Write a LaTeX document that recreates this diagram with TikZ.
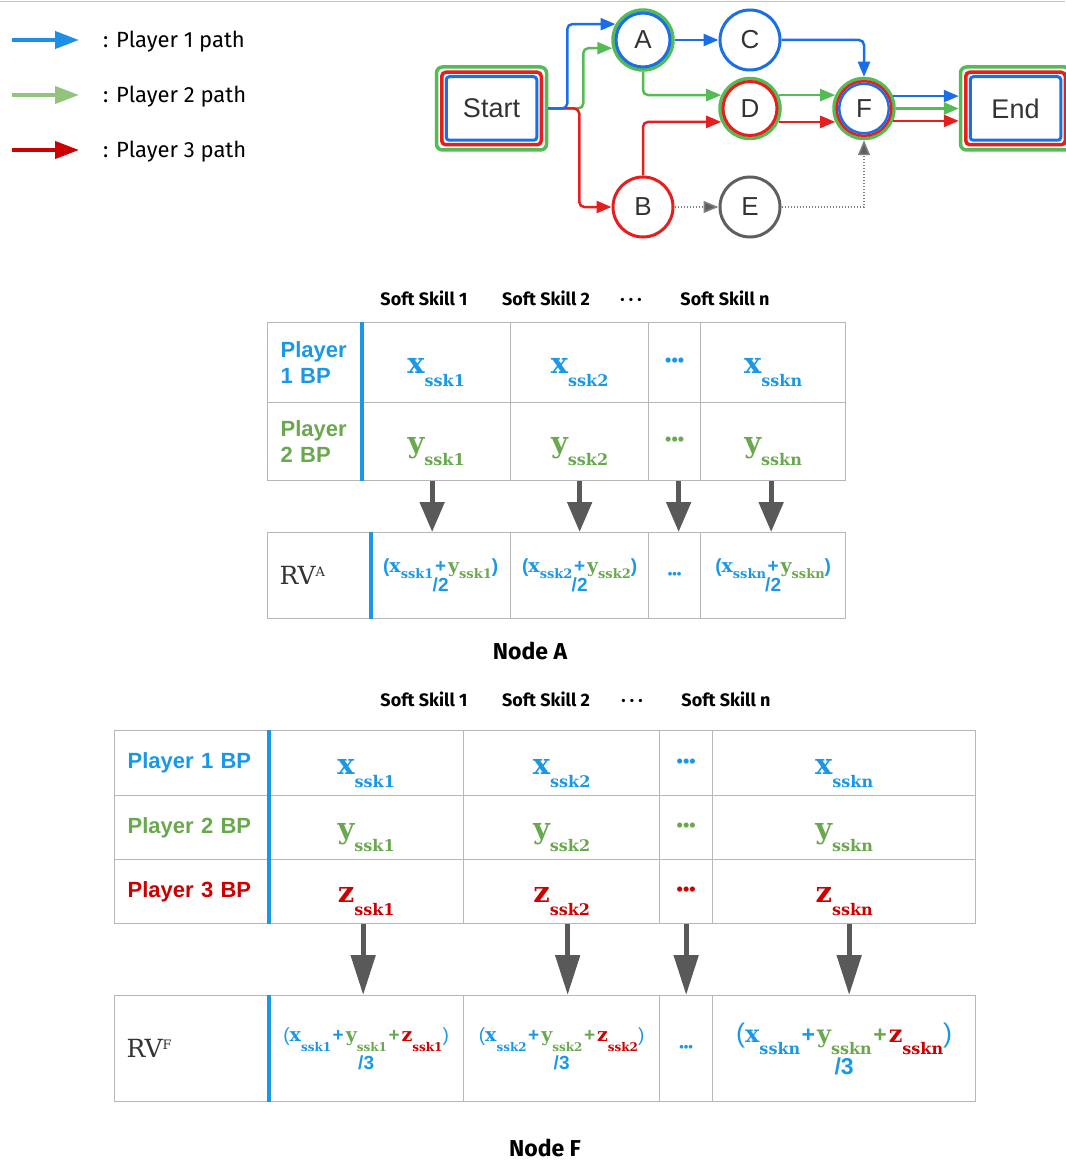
\documentclass[tikz,border=0pt]{standalone}
\usepackage{fontspec}
\setmainfont{Liberation Sans}
\newfontfamily\legfont{Fira Sans}
\newfontfamily\slabfont{DejaVu Serif}
\usepackage{xcolor}
\usepackage{tikz}
\usetikzlibrary{arrows.meta,calc,positioning}

\definecolor{lblue}{HTML}{1E8FE6}
\definecolor{lgreen}{HTML}{93C47D}
\definecolor{lred}{HTML}{CC0000}
\definecolor{gblue}{HTML}{1A6FE8}
\definecolor{ggreen}{HTML}{55BB55}
\definecolor{gred}{HTML}{E61E1E}
\definecolor{ggray}{HTML}{5F5F5F}
\definecolor{inkgray}{HTML}{333333}
\definecolor{tblue}{HTML}{1A98E6}
\definecolor{tgreen}{HTML}{6AA84F}
\definecolor{tred}{HTML}{CC0000}
\definecolor{gridgray}{HTML}{B7B7B7}
\definecolor{arrgray}{HTML}{595959}
\definecolor{rulecol}{HTML}{D8BFB0}

% variable with subscript, sizes come from \lsz, \ssz, \drop
\newcommand{\vterm}[3]{{\color{#1}\slabfont\bfseries\fontsize{\lsz}{\lsz}\selectfont #2\raisebox{-\drop}{\fontsize{\ssz}{\ssz}\selectfont #3}}}
\newcommand{\plus}[1]{\hspace{1.5pt}{\color{#1}+}\hspace{2pt}}

\tikzset{
  gnode/.style={circle, minimum size=60pt, inner sep=0pt, line width=3.5pt, text=inkgray, font=\fontsize{26}{26}\selectfont},
  gbox/.style={rectangle, rounded corners=6pt, draw=ggreen, line width=3.5pt, minimum width=110pt, minimum height=83pt, text=inkgray, font=\fontsize{27}{27}\selectfont},
  p1path/.style={draw=gblue, line width=2.5pt, rounded corners=5pt, -{Triangle[length=15pt,width=12pt]}},
  p2path/.style={draw=ggreen, line width=2.5pt, rounded corners=5pt, -{Triangle[length=15pt,width=12pt]}},
  p3path/.style={draw=gred, line width=2.5pt, rounded corners=5pt, -{Triangle[length=15pt,width=12pt]}},
  dotpath/.style={draw=gray, line width=1.5pt, dash pattern=on 1.5pt off 1.5pt, -{Triangle[length=15pt,width=12pt,fill=ggray]}},
  legarrow/.style={line width=4pt, -{Triangle[length=24pt,width=17pt]}},
  legtext/.style={anchor=base west, inner sep=0pt, text=black, font=\legfont\fontsize{22}{22}\selectfont},
  tcell/.style 2 args={draw=gridgray, line width=1.3pt, minimum width=#1, minimum height=#2, inner sep=0pt, anchor=north west},
  plab/.style={text width=#1, inner xsep=13pt, align=left, font=\bfseries\fontsize{22}{26}\selectfont},
  bpv/.style={text height=35pt, text depth=13pt, font=\def\lsz{29pt}\def\ssz{16pt}\def\drop{13pt}},
  dotcell/.style={font=\bfseries\fontsize{18}{18}\selectfont},
  rvdots/.style={text=tblue, font=\bfseries\fontsize{13}{13}\selectfont},
  rvlab/.style={text width=#1, inner xsep=12pt, align=left, text=inkgray, font=\slabfont\fontsize{25}{25}\selectfont},
  rvs/.style={align=center, text=tblue, font=\bfseries\fontsize{19}{21}\selectfont\def\lsz{19pt}\def\ssz{13pt}\def\drop{6pt}},
  rvf/.style={align=center, text=tblue, font=\bfseries\fontsize{19}{21}\selectfont\def\lsz{19pt}\def\ssz{12pt}\def\drop{10pt}},
  rvfl/.style={align=center, text=tblue, font=\bfseries\fontsize{23}{25}\selectfont\def\lsz{24pt}\def\ssz{16pt}\def\drop{12pt}},
  bpsep/.style={draw=tblue, line width=4pt},
  sumarrow/.style={draw=arrgray, line width=5pt, -{Triangle[length=30pt,width=24pt]}},
  sumarrowf/.style={draw=arrgray, line width=5pt, -{Triangle[length=40pt,width=24pt]}},
  skillhead/.style={anchor=base, inner sep=0pt, font=\legfont\bfseries\fontsize{18}{18}\selectfont},
  caption/.style={anchor=base, inner sep=0pt, font=\legfont\bfseries\fontsize{23}{23}\selectfont}
}

\begin{document}
\begin{tikzpicture}[x=1pt,y=-1pt]
  \useasboundingbox (0,0) rectangle (1065,1161);
  \coordinate (rulea) at (0,1.5);
  \coordinate (ruleb) at (1065,1.5);
  \draw[rulecol, line width=1pt] (rulea) -- (ruleb);

  % legend
  \coordinate (lg1a) at (12,40);
  \coordinate (lg1b) at (79,40);
  \coordinate (lg2a) at (12,95);
  \coordinate (lg2b) at (79,95);
  \coordinate (lg3a) at (12,150);
  \coordinate (lg3b) at (79,150);
  \draw[legarrow, lblue] (lg1a) -- (lg1b);
  \draw[legarrow, lgreen] (lg2a) -- (lg2b);
  \draw[legarrow, lred] (lg3a) -- (lg3b);
  \node[legtext] (lg1) at (103,48) {: Player 1 path};
  \node[legtext] (lg2) at (103,103) {: Player 2 path};
  \node[legtext] (lg3) at (103,158) {: Player 3 path};

  % graph
  \node[gbox] (start) at (491.5,108.5) {Start};
  \draw[gred, line width=3.5pt, rounded corners=4pt] ([shift={(7pt,-7pt)}]start.north west) rectangle ([shift={(-7pt,7pt)}]start.south east);
  \draw[gblue, line width=3pt, rounded corners=3pt] ([shift={(11.5pt,-11.5pt)}]start.north west) rectangle ([shift={(-11.5pt,11.5pt)}]start.south east);
  \node[gbox] (end) at (1015.5,108.5) {End};
  \draw[gred, line width=3.5pt, rounded corners=4pt] ([shift={(7pt,-7pt)}]end.north west) rectangle ([shift={(-7pt,7pt)}]end.south east);
  \draw[gblue, line width=3pt, rounded corners=3pt] ([shift={(11.5pt,-11.5pt)}]end.north west) rectangle ([shift={(-11.5pt,11.5pt)}]end.south east);

  \node[gnode, draw=ggreen] (A) at (643,40) {A};
  \draw[gblue, line width=3pt] (A.center) circle (27pt);
  \node[gnode, draw=gblue, line width=3pt] (C) at (750,40) {C};
  \node[gnode, draw=ggreen] (D) at (750,108.5) {D};
  \draw[gred, line width=3pt] (D.center) circle (27pt);
  \node[gnode, draw=ggreen] (F) at (864,108.5) {F};
  \draw[gred, line width=2.5pt] (F.center) circle (27.3pt);
  \draw[gblue, line width=2.5pt] (F.center) circle (24.8pt);
  \node[gnode, draw=gred, line width=3pt] (B) at (643,207) {B};
  \node[gnode, draw=ggray, line width=3pt] (E) at (750,207) {E};

  \draw[p2path] (start.east) -- ++(35,0) |- (A.195);
  \draw[p3path] (start.east) -- ++(31,0) |- (B);
  \draw[p1path] (start.east) -- ++(19,0) |- (A.150);
  \draw[p1path] (A) -- (C);
  \draw[p1path] (C) -| (F);
  \draw[p2path] (A) |- (D.155);
  \draw[p3path] (B) |- (D.205);
  \draw[p2path] (D.25) -- (F.155);
  \draw[p3path] (D.-25) -- (F.205);
  \draw[p1path] (F.23) -- (F.23 -| end.west);
  \draw[p2path] (F) -- (end);
  \draw[p3path] (F.-23) -- (F.-23 -| end.west);
  \draw[dotpath] (B) -- (E);
  \draw[dotpath] (E) -| (F);

  % node A table
  \node[skillhead] (ha1) at (424,305) {Soft Skill 1};
  \node[skillhead] (ha2) at (546,305) {Soft Skill 2};
  \node[skillhead] (ha3) at (631,305) {· · ·};
  \node[skillhead] (ha4) at (725,305) {Soft Skill n};

  \node[tcell={94pt}{80pt}, plab=68pt, text=tblue] (pa1) at (267,322) {Player\\1 BP};
  \node[tcell={149pt}{80pt}, bpv] (xa1) at (361,322) {\vterm{tblue}{x}{ssk1}};
  \node[tcell={138pt}{80pt}, bpv] (xa2) at (510,322) {\vterm{tblue}{x}{ssk2}};
  \node[tcell={52pt}{80pt}, dotcell, text=tblue] (xa3) at (648,322) {•••};
  \node[tcell={145pt}{80pt}, bpv] (xa4) at (700,322) {\vterm{tblue}{x}{sskn}};
  \node[tcell={94pt}{78pt}, plab=68pt, text=tgreen] (pa2) at (267,402) {Player\\2 BP};
  \node[tcell={149pt}{78pt}, bpv] (ya1) at (361,402) {\vterm{tgreen}{y}{ssk1}};
  \node[tcell={138pt}{78pt}, bpv] (ya2) at (510,402) {\vterm{tgreen}{y}{ssk2}};
  \node[tcell={52pt}{78pt}, dotcell, text=tgreen] (ya3) at (648,402) {•••};
  \node[tcell={145pt}{78pt}, bpv] (ya4) at (700,402) {\vterm{tgreen}{y}{sskn}};
  \draw[bpsep] (pa1.north east) -- (pa2.south east);

  \node[tcell={103pt}{86pt}, rvlab=79pt] (ra0) at (267,532) {RV\raisebox{8pt}{\fontsize{13}{13}\selectfont A}};
  \node[tcell={140pt}{86pt}, rvs] (ra1) at (370,532) {(\vterm{tblue}{x}{ssk1}\plus{tblue}\vterm{tgreen}{y}{ssk1})\\[-2pt]/2};
  \node[tcell={138pt}{86pt}, rvs] (ra2) at (510,532) {(\vterm{tblue}{x}{ssk2}\plus{tblue}\vterm{tgreen}{y}{ssk2})\\[-2pt]/2};
  \node[tcell={52pt}{86pt}, rvdots] (ra3) at (648,532) {•••};
  \node[tcell={145pt}{86pt}, rvs] (ra4) at (700,532) {(\vterm{tblue}{x}{sskn}\plus{tblue}\vterm{tgreen}{y}{sskn})\\[-2pt]/2};
  \draw[bpsep] (ra0.north east) -- (ra0.south east);

  \draw[sumarrow] ([xshift=-4pt]ya1.south) -- ([xshift=-4pt]ya1.south |- ra1.north);
  \draw[sumarrow] (ya2.south) -- (ya2.south |- ra2.north);
  \draw[sumarrow] ([xshift=4pt]ya3.south) -- ([xshift=4pt]ya3.south |- ra3.north);
  \draw[sumarrow] ([xshift=-2pt]ya4.south) -- ([xshift=-2pt]ya4.south |- ra4.north);
  \node[caption] (capa) at (530,659) {Node A};

  % node F table
  \node[skillhead] (hf1) at (424,706) {Soft Skill 1};
  \node[skillhead] (hf2) at (546,706) {Soft Skill 2};
  \node[skillhead] (hf3) at (632,706) {· · ·};
  \node[skillhead] (hf4) at (726,706) {Soft Skill n};

  \node[tcell={154pt}{65pt}, plab=128pt, text=tblue] (pf1) at (114,730) {Player 1 BP};
  \node[tcell={195pt}{65pt}, bpv] (xf1) at (268,730) {\vterm{tblue}{x}{ssk1}};
  \node[tcell={196pt}{65pt}, bpv] (xf2) at (463,730) {\vterm{tblue}{x}{ssk2}};
  \node[tcell={53pt}{65pt}, dotcell, text=tblue] (xf3) at (659,730) {•••};
  \node[tcell={263pt}{65pt}, bpv] (xf4) at (712,730) {\vterm{tblue}{x}{sskn}};
  \node[tcell={154pt}{64pt}, plab=128pt, text=tgreen] (pf2) at (114,795) {Player 2 BP};
  \node[tcell={195pt}{64pt}, bpv] (yf1) at (268,795) {\vterm{tgreen}{y}{ssk1}};
  \node[tcell={196pt}{64pt}, bpv] (yf2) at (463,795) {\vterm{tgreen}{y}{ssk2}};
  \node[tcell={53pt}{64pt}, dotcell, text=tgreen] (yf3) at (659,795) {•••};
  \node[tcell={263pt}{64pt}, bpv] (yf4) at (712,795) {\vterm{tgreen}{y}{sskn}};
  \node[tcell={154pt}{64pt}, plab=128pt, text=tred] (pf3) at (114,859) {Player 3 BP};
  \node[tcell={195pt}{64pt}, bpv] (zf1) at (268,859) {\vterm{tred}{z}{ssk1}};
  \node[tcell={196pt}{64pt}, bpv] (zf2) at (463,859) {\vterm{tred}{z}{ssk2}};
  \node[tcell={53pt}{64pt}, dotcell, text=tred] (zf3) at (659,859) {•••};
  \node[tcell={263pt}{64pt}, bpv] (zf4) at (712,859) {\vterm{tred}{z}{sskn}};
  \draw[bpsep] (pf1.north east) -- (pf3.south east);

  \node[tcell={154pt}{106pt}, rvlab=130pt] (rf0) at (114,995) {RV\raisebox{8pt}{\fontsize{13}{13}\selectfont F}};
  \node[tcell={195pt}{106pt}, rvf] (rf1) at (268,995) {{\mdseries(}\vterm{tblue}{x}{ssk1}\plus{tblue}\vterm{tgreen}{y}{ssk1}\plus{tgreen}\vterm{tred}{z}{ssk1}{\mdseries)}\\[3pt]/3};
  \node[tcell={196pt}{106pt}, rvf] (rf2) at (463,995) {{\mdseries(}\vterm{tblue}{x}{ssk2}\plus{tblue}\vterm{tgreen}{y}{ssk2}\plus{tgreen}\vterm{tred}{z}{ssk2}{\mdseries)}\\[3pt]/3};
  \node[tcell={53pt}{106pt}, rvdots] (rf3) at (659,995) {•••};
  \node[tcell={263pt}{106pt}, rvfl] (rf4) at (712,995) {{\mdseries\fontsize{27}{27}\selectfont(}\vterm{tblue}{x}{sskn}\plus{tblue}\vterm{tgreen}{y}{sskn}\plus{tgreen}\vterm{tred}{z}{sskn}{\mdseries\fontsize{27}{27}\selectfont)}\\[2pt]/3};
  \draw[bpsep] (rf0.north east) -- (rf0.south east);

  \draw[sumarrowf] ([xshift=-3pt]zf1.south) -- ([xshift=-3pt]zf1.south |- rf1.north);
  \draw[sumarrowf] ([xshift=6pt]zf2.south) -- ([xshift=6pt]zf2.south |- rf2.north);
  \draw[sumarrowf] (zf3.south) -- (zf3.south |- rf3.north);
  \draw[sumarrowf] ([xshift=5pt]zf4.south) -- ([xshift=5pt]zf4.south |- rf4.north);
  \node[caption] (capf) at (545,1156) {Node F};
\end{tikzpicture}
\end{document}
